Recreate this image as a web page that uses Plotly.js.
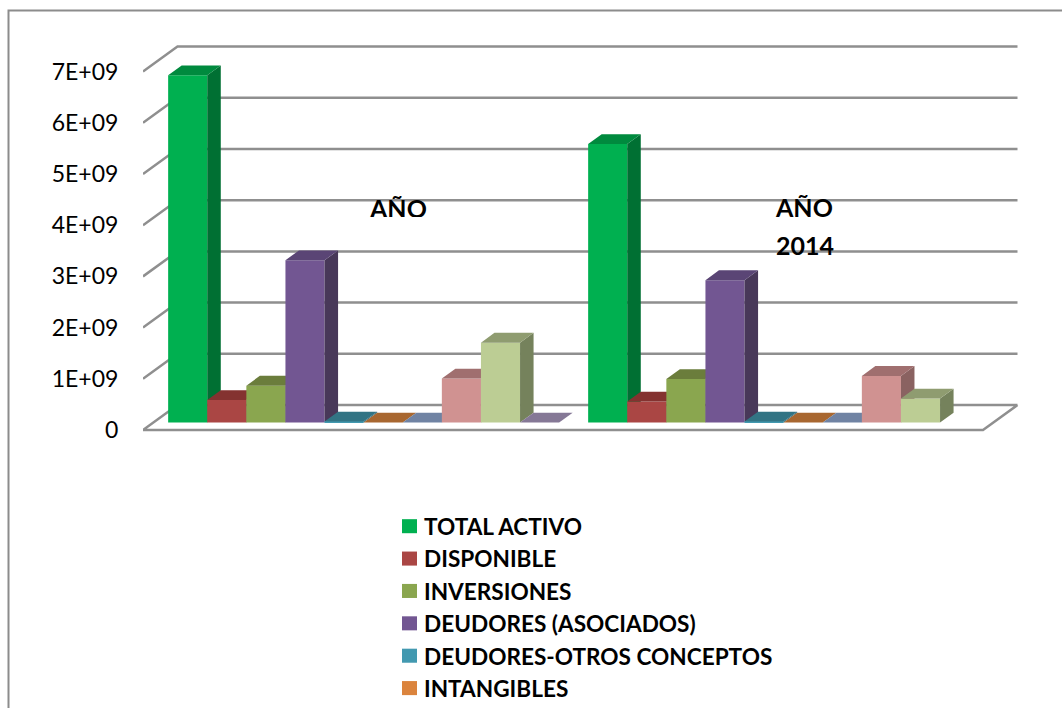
<!DOCTYPE html>
<html><head><meta charset="utf-8">
<script src="https://cdn.plot.ly/plotly-3.0.1.min.js"></script>
<style>html,body{margin:0;padding:0;background:#fff;overflow:hidden}#c{width:1062px;height:708px}</style>
</head><body><div id="c"></div>
<script>
// ---- data ----
const years = ['AÑO 2013', 'AÑO 2014'];
const seriesNames = ['TOTAL ACTIVO','DISPONIBLE','INVERSIONES','DEUDORES (ASOCIADOS)','DEUDORES-OTROS CONCEPTOS','INTANGIBLES','OTROS ACTIVOS','CUENTAS','PASIVO','OTROS'];
const legendCount = 6;
const totalActivo = [6.78e9, 5.44e9];
const disponible  = [0.44e9, 0.41e9];
const inversiones = [0.72e9, 0.85e9];
const deudoresAso = [3.17e9, 2.78e9];
const deudoresOtr = [0.02e9, 0.02e9];
const intangibles = [0, 0];
const otrosActivos= [0, 0];
const cuentas     = [0.86e9, 0.91e9];
const pasivo      = [1.56e9, 0.47e9];
const otros       = [0, null];
const seriesValues = [totalActivo,disponible,inversiones,deudoresAso,deudoresOtr,intangibles,otrosActivos,cuentas,pasivo,otros];
const frontColors = ['#00b050','#aa4644','#8aa64f','#725692','#4299b0','#db843d','#7286a8','#d09291','#bccd94','#857896'];
const topColors   = ['#008a3e','#843230','#6b7d3c','#5a4575','#327484','#a86730','#7083a3','#a06f6f','#8f9c70','#857896'];
const sideColors  = ['#007033','#6e2a28','#596834','#483859','#2a6170','#8c5627','#5d6d88','#8a6261','#75825c','#6c617a'];
const tickValues = [0,1e9,2e9,3e9,4e9,5e9,6e9,7e9];
const tickLabels = ['0','1E+09','2E+09','3E+09','4E+09','5E+09','6E+09','7E+09'];

// ---- layout geometry ----
const W = 1062, H = 708;
const plotL = 143, plotR = 1030, plotT = 30, plotB = 445;
const pxPerGroup = 420, pxPerValue = 51.2 / 1e9, y0px = 430;
const xRange = [0, (plotR - plotL) / pxPerGroup];
const yRange = [(y0px - plotB) / pxPerValue, (y0px - plotT) / pxPerValue];
const wallDX = 34.5 / pxPerGroup, wallDY = 25 / pxPerValue;   // full depth of the floor, axis units
const barD0 = 0.30, barDepth = 0.392;                         // depth slot of the bars
const barW = 39.1 / pxPerGroup, groupPad = 14.8 / pxPerGroup;
const lineCol = '#8f8f8f';

const px = x => (x - plotL) / (plotR - plotL);
const py = y => (plotB - y) / (plotB - plotT);

const traces = [];
// gridlines (walls and floor) on the base subplot
tickValues.forEach((v, i) => {
  const xs = [0, wallDX, 2 + wallDX];
  const ys = [v, v + wallDY, v + wallDY];
  if (i === 0) { xs.unshift(2 + wallDX, 2); ys.unshift(wallDY, 0); }
  traces.push({type:'scatter', mode:'lines', x:xs, y:ys, showlegend:false, hoverinfo:'skip',
    line:{color:lineCol, width:2.5}, xaxis:'x', yaxis:'y', cliponaxis:false});
});

const axes = {};
seriesValues.forEach((vals, s) => {
  const n = s + 2, xa = 'x' + n, ya = 'y' + n;
  axes['xaxis' + n] = {overlaying:'x', anchor:ya, visible:false, range:xRange, type:'linear', fixedrange:true};
  axes['yaxis' + n] = {overlaying:'y', anchor:xa, visible:false, range:yRange, type:'linear', fixedrange:true};
  const lefts = years.map((_, g) => g + groupPad + barW * s + barD0 * wallDX);
  const base = barD0 * wallDY;
  traces.push({type:'bar', name:seriesNames[s], x:lefts.map(l => l + barW / 2), y:vals, base:base, width:barW,
    marker:{color:frontColors[s], line:{width:0}}, showlegend:s < legendCount, legendgroup:'g' + s,
    hovertext:years, xaxis:xa, yaxis:ya});
  const dx = barDepth * wallDX, dy = barDepth * wallDY;
  const tx = [], ty = [], sx = [], sy = [];
  vals.forEach((v, g) => {
    if (v === null) return;
    const l = lefts[g], r = l + barW, t = base + v;
    tx.push(l, l + dx, r + dx, r, l, null); ty.push(t, t + dy, t + dy, t, t, null);
    sx.push(r, r + dx, r + dx, r, r, null); sy.push(base, base + dy, t + dy, t, base, null);
  });
  traces.push({type:'scatter', mode:'lines', x:sx, y:sy, fill:'toself', fillcolor:sideColors[s],
    line:{width:0, color:sideColors[s]}, showlegend:false, hoverinfo:'skip', xaxis:xa, yaxis:ya});
  traces.push({type:'scatter', mode:'lines', x:tx, y:ty, fill:'toself', fillcolor:topColors[s],
    line:{width:0, color:topColors[s]}, showlegend:false, hoverinfo:'skip', xaxis:xa, yaxis:ya});
});

const labelFont = {family:'Lato, sans-serif', size:25, color:'#000000'};
const layout = Object.assign({
  width:W, height:H, paper_bgcolor:'#fff', plot_bgcolor:'rgba(0,0,0,0)', showlegend:true, barmode:'overlay',
  margin:{l:plotL, r:W - plotR, t:plotT, b:H - plotB, pad:0, autoexpand:false},
  xaxis:{range:xRange, type:'linear', visible:false, fixedrange:true},
  yaxis:{range:yRange, type:'linear', tickmode:'array', tickvals:tickValues, ticktext:tickLabels, showgrid:false,
    zeroline:false, showline:false, ticks:'outside', ticklen:19, tickcolor:'rgba(0,0,0,0)', ticklabelshift:-2.5,
    tickfont:{family:'Lato, sans-serif', size:23, color:'#000'}, fixedrange:true},
  legend:{x:px(384), xanchor:'left', y:py(505), yanchor:'top', traceorder:'grouped', tracegroupgap:0,
    bgcolor:'rgba(0,0,0,0)', font:{family:'Lato, sans-serif', size:22.6, color:'#000', weight:700}, itemclick:false, itemdoubleclick:false},
  shapes:[{type:'rect', xref:'paper', yref:'paper', x0:px(8.5), x1:px(1075), y0:py(10.5), y1:py(720),
    line:{color:'#8c8c8c', width:2}, fillcolor:'rgba(0,0,0,0)', layer:'below'}],
  annotations:[
    {xref:'paper', yref:'paper', x:px(398), xanchor:'center', y:py(191), yanchor:'top', height:24, valign:'top', text:'<b>AÑO</b>', showarrow:false, font:labelFont},
    {xref:'paper', yref:'paper', x:px(804), xanchor:'center', y:py(207), yanchor:'middle', text:'<b>AÑO</b>', showarrow:false, font:labelFont},
    {xref:'paper', yref:'paper', x:px(805), xanchor:'center', y:py(245), yanchor:'middle', text:'<b>2014</b>', showarrow:false, font:labelFont}
  ]
}, axes);

Plotly.newPlot('c', traces, layout, {displayModeBar:false, responsive:false}).then(() => {
  // legend swatches in the reference are larger and sit closer to the text
  document.querySelectorAll('.legend .traces').forEach(tr => {
    const sym = tr.querySelector('.legendsymbols');
    if (sym) sym.setAttribute('transform', 'translate(5.5,0)');
    const p = tr.querySelector('.legendpoints path');
    if (p) p.setAttribute('transform', (p.getAttribute('transform') || '') + ' scale(1.25,1.17)');
  });
});
</script>
</body></html>
